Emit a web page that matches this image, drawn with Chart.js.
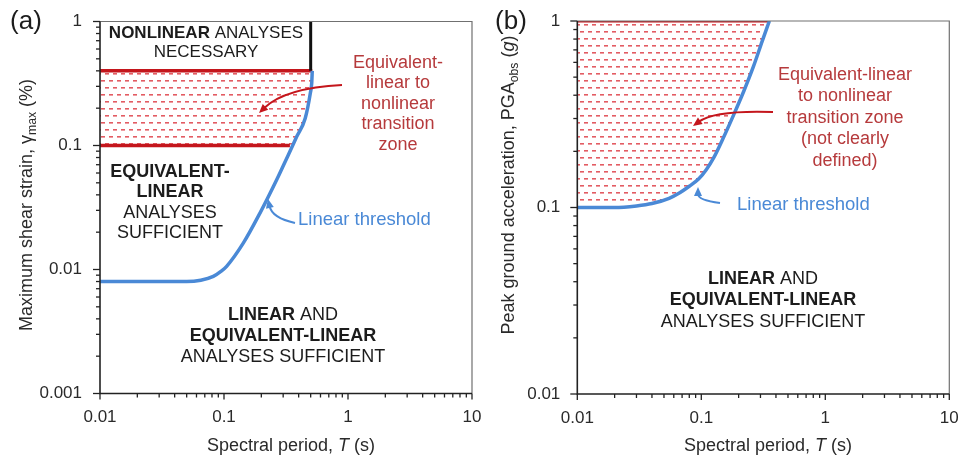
<!DOCTYPE html>
<html>
<head>
<meta charset="utf-8">
<script src="https://cdn.jsdelivr.net/npm/chart.js@4.4.0/dist/chart.umd.min.js"></script>
<style>
html,body{margin:0;padding:0;background:#fff;}
#wrap{position:relative;width:967px;height:457px;overflow:hidden;}
canvas{position:absolute;top:0;}
#chartA{left:0;}
#chartB{left:483px;}
</style>
</head>
<body>
<div id="wrap">
<canvas id="chartA" width="483" height="457"></canvas>
<canvas id="chartB" width="484" height="457"></canvas>
</div>
<script>
// ---- (a) shear strain ----
// linear threshold curve
const strainT     = [0.01, 0.03, 0.05, 0.065, 0.082, 0.095, 0.105, 0.143, 0.195, 0.266, 0.33, 0.386, 0.452, 0.497, 0.51, 0.515];
const strainGamma = [0.008, 0.008, 0.008, 0.0082, 0.0088, 0.0097, 0.0106, 0.0163, 0.0285, 0.0529, 0.084, 0.118, 0.166, 0.265, 0.32, 0.4];
// lower edge of the transition band (0.1 % up the threshold to 0.4 %)
const bandT       = [0.01, 0.35, 0.386, 0.452, 0.497, 0.51, 0.515];
const bandGamma   = [0.1, 0.1, 0.118, 0.166, 0.265, 0.32, 0.4];
const bandTop     = 0.4;
// red limit lines and the nonlinear box edge
const upperLimitT = [0.01, 0.515];
const upperLimit  = [0.4, 0.4];
const lowerLimitT = [0.01, 0.34];
const lowerLimit  = [0.1, 0.1];
const boxEdgeT    = [0.5, 0.5];
const boxEdge     = [0.4, 1];

// ---- (b) PGA ----
const pgaT   = [0.01, 0.02, 0.03, 0.04, 0.055, 0.067, 0.08, 0.095, 0.11, 0.126, 0.15, 0.182, 0.22, 0.263, 0.31, 0.354];
const pgaVal = [0.1, 0.1, 0.102, 0.105, 0.112, 0.12, 0.13, 0.142, 0.16, 0.185, 0.235, 0.313, 0.42, 0.569, 0.78, 1.0];
const pgaTopT = [0.01, 0.354];
const pgaTop  = [1, 1];

// axes
const periodDecades = [0.01, 0.1, 1, 10];
const periodLabels  = ['0.01', '0.1', '1', '10'];
const strainDecades = [0.001, 0.01, 0.1, 1];
const strainLabels  = ['0.001', '0.01', '0.1', '1'];
const pgaDecades    = [0.01, 0.1, 1];
const pgaLabels     = ['0.01', '0.1', '1'];

const FONT = '"Liberation Sans", Arial, Helvetica, sans-serif';
const BLUE = '#4a89d6';
const RED = '#c4161c';
const RED_TXT = '#b63a3c';
const INK = '#1c1c1c';

const pts = (xs, ys) => xs.map((x, i) => ({x: x, y: ys[i]}));

function logTicks(decades) {
  let out = [];
  decades.forEach((d, i) => {
    out.push(d);
    if (i < decades.length - 1) for (let m = 2; m <= 9; m++) out.push(+(d * m).toPrecision(3));
  });
  return out;
}

// red dashed hatching
function hatch() {
  const c = document.createElement('canvas');
  c.width = 8; c.height = 14;
  const g = c.getContext('2d');
  g.fillStyle = 'rgba(222,64,72,0.85)';
  g.fillRect(1, 3, 4, 1.6);
  g.fillRect(5, 10, 3, 1.6);
  g.fillRect(0, 10, 1, 1.6);
  return g.createPattern(c, 'repeat');
}

function drawRuns(ctx, runs, x, y, size, align) {
  const fonts = runs.map(r => (r.i ? 'italic ' : '') + (r.b ? 'bold ' : '') + (r.sub ? size * 0.68 : size) + 'px ' + FONT);
  let w = 0;
  const ws = runs.map((r, k) => { ctx.font = fonts[k]; const m = ctx.measureText(r.t).width; w += m; return m; });
  let cx = align === 'left' ? x : x - w / 2;
  ctx.textAlign = 'left';
  ctx.textBaseline = 'middle';
  runs.forEach((r, k) => {
    ctx.font = fonts[k];
    ctx.fillText(r.t, cx, y + (r.sub ? size * 0.3 : 0));
    cx += ws[k];
  });
}

// '*word*' marks bold parts of a line
function parseLine(s) {
  return s.split('*').map((t, k) => ({t: t, b: k % 2 === 1})).filter(r => r.t.length);
}

function drawBlock(ctx, blk) {
  ctx.save();
  ctx.fillStyle = blk.color;
  blk.lines.forEach((line, i) => drawRuns(ctx, parseLine(line), blk.x, blk.y + i * blk.lh, blk.size, blk.align));
  ctx.restore();
}

function drawArrow(ctx, a) {
  ctx.save();
  ctx.strokeStyle = a.color; ctx.fillStyle = a.color;
  ctx.lineWidth = 2;
  const [sx, sy] = a.from, [qx, qy] = a.ctrl, [ex, ey] = a.to;
  const ang = Math.atan2(ey - qy, ex - qx);
  const hl = 9, hw = 4;
  const bx = ex - hl * 0.8 * Math.cos(ang), by = ey - hl * 0.8 * Math.sin(ang);
  ctx.beginPath(); ctx.moveTo(sx, sy); ctx.quadraticCurveTo(qx, qy, bx, by); ctx.stroke();
  ctx.beginPath();
  ctx.moveTo(ex, ey);
  ctx.lineTo(ex - hl * Math.cos(ang) + hw * Math.sin(ang), ey - hl * Math.sin(ang) - hw * Math.cos(ang));
  ctx.lineTo(ex - hl * Math.cos(ang) - hw * Math.sin(ang), ey - hl * Math.sin(ang) + hw * Math.cos(ang));
  ctx.closePath(); ctx.fill();
  ctx.restore();
}

// frame, outward log ticks, titles and notes
const decorPlugin = {
  id: 'decor',
  afterDraw(chart) {
    const ctx = chart.ctx, a = chart.chartArea, p = chart.options.plugins.decor;
    const xs = chart.scales.x, ys = chart.scales.y;
    ctx.save();
    // frame
    ctx.strokeStyle = '#707070'; ctx.lineWidth = 1.2;
    ctx.beginPath(); ctx.moveTo(a.left, a.top); ctx.lineTo(a.right, a.top); ctx.lineTo(a.right, a.bottom); ctx.stroke();
    ctx.strokeStyle = '#222'; ctx.lineWidth = 1.6;
    ctx.beginPath(); ctx.moveTo(a.left, a.top); ctx.lineTo(a.left, a.bottom); ctx.lineTo(a.right, a.bottom); ctx.stroke();
    // ticks
    ctx.lineWidth = 1.3;
    xs.ticks.forEach(t => {
      const px = xs.getPixelForValue(t.value), len = t.major ? 6 : 4;
      ctx.beginPath(); ctx.moveTo(px, a.bottom); ctx.lineTo(px, a.bottom + len); ctx.stroke();
    });
    ys.ticks.forEach(t => {
      const py = ys.getPixelForValue(t.value), len = t.major ? 7 : 4;
      ctx.beginPath(); ctx.moveTo(a.left, py); ctx.lineTo(a.left - len, py); ctx.stroke();
    });
    ctx.fillStyle = INK;
    // panel letter
    ctx.font = '26px ' + FONT; ctx.textAlign = 'center'; ctx.textBaseline = 'middle';
    ctx.fillText(p.letter, p.letterX, 22);
    // axis titles
    ctx.fillStyle = '#2a2a2a';
    drawRuns(ctx, [{t: 'Spectral period, '}, {t: 'T', i: true}, {t: ' (s)'}], p.xTitleX, 446, 18);
    ctx.save();
    ctx.translate(p.yTitleX, p.yTitleY);
    ctx.rotate(-Math.PI / 2);
    drawRuns(ctx, p.yTitle, 0, 0, 18);
    ctx.restore();
    p.blocks.forEach(b => drawBlock(ctx, b));
    p.arrows.forEach(ar => drawArrow(ctx, ar));
    ctx.restore();
  }
};

function logAxis(min, max, decades, labels, fitKey, fitSize, pad) {
  const ticks = logTicks(decades);
  return {
    type: 'logarithmic', min: min, max: max,
    afterBuildTicks: s => { s.ticks = ticks.map(v => ({value: v, major: decades.includes(v)})); },
    afterFit: s => {
      s[fitKey] = fitSize;
      s.paddingTop = s.paddingBottom = s.paddingLeft = s.paddingRight = 0;
    },
    grid: {display: false, drawTicks: false, tickLength: 0}, border: {display: false},
    ticks: {
      autoSkip: false, maxRotation: 0, padding: pad, color: '#2a2a2a',
      font: {family: FONT, size: 17},
      callback: v => { const k = decades.indexOf(v); return k < 0 ? '' : labels[k]; }
    }
  };
}

const lineDs = (data, color, width) => ({data: data, borderColor: color, borderWidth: width, pointRadius: 0, fill: false, tension: 0});

new Chart(document.getElementById('chartA'), {
  type: 'line',
  data: {datasets: [
    Object.assign(lineDs(pts(strainT, strainGamma), BLUE, 3.5), {cubicInterpolationMode: 'monotone'}),
    lineDs(pts(boxEdgeT, boxEdge), '#111', 3),
    lineDs(pts(upperLimitT, upperLimit), RED, 3.5),
    lineDs(pts(lowerLimitT, lowerLimit), RED, 3.5),
    {data: pts(bandT, bandGamma), borderWidth: 0, pointRadius: 0, backgroundColor: hatch(), fill: {value: bandTop}, cubicInterpolationMode: 'monotone'}
  ]},
  options: {
    responsive: false, animation: false,
    layout: {padding: {top: 21.5, right: 11, left: 0, bottom: 0}},
    scales: {
      x: logAxis(0.01, 10, periodDecades, periodLabels, 'height', 63.5, 14),
      y: logAxis(0.001, 1, strainDecades, strainLabels, 'width', 100, 18)
    },
    plugins: {
      legend: {display: false}, tooltip: {enabled: false},
      decor: {
        letter: '(a)', letterX: 26, xTitleX: 291, yTitleX: 27, yTitleY: 205,
        yTitle: [{t: 'Maximum shear strain, '}, {t: 'γ'}, {t: 'max', sub: true}, {t: ' (%)'}],
        blocks: [
          {x: 206, y: 33, lh: 19, size: 17, color: INK, lines: ['*NONLINEAR* ANALYSES', 'NECESSARY']},
          {x: 398, y: 63, lh: 20.5, size: 18, color: RED_TXT, lines: ['Equivalent-', 'linear to', 'nonlinear', 'transition', 'zone']},
          {x: 170, y: 172, lh: 20.5, size: 18, color: INK, lines: ['*EQUIVALENT-*', '*LINEAR*', 'ANALYSES', 'SUFFICIENT']},
          {x: 283, y: 315, lh: 21, size: 18, color: INK, lines: ['*LINEAR* AND', '*EQUIVALENT-LINEAR*', 'ANALYSES SUFFICIENT']},
          {x: 298, y: 220, lh: 20, size: 18.5, color: BLUE, align: 'left', lines: ['Linear threshold']}
        ],
        arrows: [
          {color: RED, from: [342, 85], ctrl: [285, 88], to: [259, 113]},
          {color: BLUE, from: [295, 223], ctrl: [272, 218], to: [268, 199]}
        ]
      }
    }
  },
  plugins: [decorPlugin]
});

new Chart(document.getElementById('chartB'), {
  type: 'line',
  data: {datasets: [
    Object.assign(lineDs(pts(pgaT, pgaVal), BLUE, 3.5), {cubicInterpolationMode: 'monotone'}),
    lineDs(pts(pgaTopT, pgaTop), RED, 3),
    {data: pts(pgaT, pgaVal), borderWidth: 0, pointRadius: 0, backgroundColor: hatch(), fill: 'end', cubicInterpolationMode: 'monotone'}
  ]},
  options: {
    responsive: false, animation: false,
    layout: {padding: {top: 21, right: 17.7, left: 0, bottom: 0}},
    scales: {
      x: logAxis(0.01, 10, periodDecades, periodLabels, 'height', 63, 14),
      y: logAxis(0.01, 1, pgaDecades, pgaLabels, 'width', 94.3, 17)
    },
    plugins: {
      legend: {display: false}, tooltip: {enabled: false},
      decor: {
        letter: '(b)', letterX: 28, xTitleX: 285, yTitleX: 26, yTitleY: 185,
        yTitle: [{t: 'Peak ground acceleration, PGA'}, {t: 'obs', sub: true}, {t: ' ('}, {t: 'g', i: true}, {t: ')'}],
        blocks: [
          {x: 362, y: 75, lh: 21.5, size: 18, color: RED_TXT, lines: ['Equivalent-linear', 'to nonlinear', 'transition zone', '(not clearly', 'defined)']},
          {x: 280, y: 279, lh: 21.5, size: 18, color: INK, lines: ['*LINEAR* AND', '*EQUIVALENT-LINEAR*', 'ANALYSES SUFFICIENT']},
          {x: 254, y: 205, lh: 20, size: 18.5, color: BLUE, align: 'left', lines: ['Linear threshold']}
        ],
        arrows: [
          {color: RED, from: [290, 112], ctrl: [232, 110], to: [210, 126]},
          {color: BLUE, from: [237, 203], ctrl: [215, 200], to: [215, 187]}
        ]
      }
    }
  },
  plugins: [decorPlugin]
});
</script>
</body>
</html>
